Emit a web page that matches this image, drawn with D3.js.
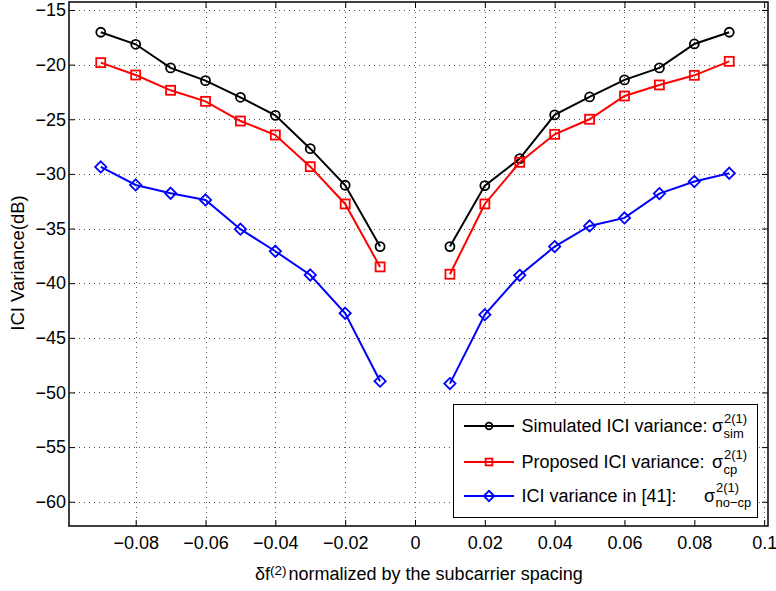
<!DOCTYPE html>
<html>
<head>
<meta charset="utf-8">
<script src="https://d3js.org/d3.v7.min.js"></script>
<style>
  body { margin: 0; background: #fff; }
  svg { display: block; font-family: "Liberation Sans", Arial, Helvetica, sans-serif; }
  .axis text { font-size: 18px; fill: #000; }
  .axis path, .axis line { stroke: #000; }
</style>
</head>
<body>
<div id="chart"></div>
<script>
// data (null at 0 breaks each curve in two)
var xValues = [-0.09, -0.08, -0.07, -0.06, -0.05, -0.04, -0.03, -0.02, -0.01, 0,
               0.01, 0.02, 0.03, 0.04, 0.05, 0.06, 0.07, 0.08, 0.09]
var simValues = [-17.04, -18.14, -20.3, -21.47, -22.99, -24.64, -27.69, -31.04, -36.65, null,
                 -36.65, -31.07, -28.6, -24.6, -22.96, -21.4, -20.3, -18.11, -17.04]
var cpValues = [-19.82, -20.95, -22.35, -23.36, -25.16, -26.44, -29.34, -32.75, -38.51, null,
                -39.18, -32.75, -28.94, -26.38, -25.0, -22.87, -21.86, -20.98, -19.7]
var nocpValues = [-29.36, -31.01, -31.77, -32.38, -35.06, -37.08, -39.25, -42.75, -48.97, null,
                  -49.19, -42.88, -39.28, -36.65, -34.76, -34.03, -31.8, -30.7, -29.94]

var xTicks = [-0.08, -0.06, -0.04, -0.02, 0, 0.02, 0.04, 0.06, 0.08, 0.1]
var xTickLabels = ["\u22120.08", "\u22120.06", "\u22120.04", "\u22120.02", "0", "0.02", "0.04", "0.06", "0.08", "0.1"]
var yTicks = [-60, -55, -50, -45, -40, -35, -30, -25, -20, -15]
var yTickLabels = ["\u221260", "\u221255", "\u221250", "\u221245", "\u221240", "\u221235", "\u221230", "\u221225", "\u221220", "\u221215"]

var seriesNames = ["Simulated ICI variance:", "Proposed ICI variance:", "ICI variance in [41]:"]
var seriesSubs = ["sim", "cp", "no\u2212cp"]
var seriesColors = ["#000000", "#ff0000", "#0000ff"]
var seriesMarkers = ["circle", "square", "diamond"]
var seriesValues = [simValues, cpValues, nocpValues]

var W = 776, H = 591
var box = { left: 69, right: 768, top: 2, bottom: 526 }

var svg = d3.select("#chart")
    .append("svg")
        .attr("width", W)
        .attr("height", H)

var x = d3.scaleLinear()
    .domain([-0.0991, 0.1011])
    .range([box.left, box.right])

var y = d3.scaleLinear()
    .domain([-62.22, -14.27])
    .range([box.bottom, box.top])

// dotted grid
var grid = svg.append("g")
grid.selectAll(".gx")
    .data(xTicks)
    .enter().append("line")
        .attr("x1", d => Math.round(x(d)) + 0.5)
        .attr("x2", d => Math.round(x(d)) + 0.5)
        .attr("y1", box.top)
        .attr("y2", box.bottom)
grid.selectAll(".gy")
    .data(yTicks)
    .enter().append("line")
        .attr("x1", box.left)
        .attr("x2", box.right)
        .attr("y1", d => Math.round(y(d)) + 0.5)
        .attr("y2", d => Math.round(y(d)) + 0.5)
grid.selectAll("line")
    .attr("stroke", "#555")
    .attr("stroke-width", 1)
    .attr("stroke-dasharray", "1,4")

// axes, ticks inward on all four sides
var xAxis = d3.axisBottom(x).tickValues(xTicks)
    .tickFormat((d, i) => xTickLabels[i]).tickSizeInner(-6).tickSizeOuter(0).tickPadding(10)
var yAxis = d3.axisLeft(y).tickValues(yTicks)
    .tickFormat((d, i) => yTickLabels[i]).tickSizeInner(-6).tickSizeOuter(0).tickPadding(3)

svg.append("g")
    .attr("class", "axis")
    .attr("transform", "translate(0," + box.bottom + ")")
    .call(xAxis)
    .call(g => g.select(".domain").remove())
svg.append("g")
    .attr("class", "axis")
    .attr("transform", "translate(" + box.left + ",0)")
    .call(yAxis)
    .call(g => g.select(".domain").remove())
svg.append("g")
    .attr("class", "axis")
    .attr("transform", "translate(0," + box.top + ")")
    .call(d3.axisTop(x).tickValues(xTicks).tickFormat("").tickSizeInner(-6).tickSizeOuter(0))
    .call(g => g.select(".domain").remove())
svg.append("g")
    .attr("class", "axis")
    .attr("transform", "translate(" + box.right + ",0)")
    .call(d3.axisRight(y).tickValues(yTicks).tickFormat("").tickSizeInner(-6).tickSizeOuter(0))
    .call(g => g.select(".domain").remove())

svg.append("rect")
    .attr("x", box.left)
    .attr("y", box.top)
    .attr("width", box.right - box.left)
    .attr("height", box.bottom - box.top)
    .attr("fill", "none")
    .attr("stroke", "#000")
    .attr("stroke-width", 1.5)

// axis labels
svg.append("text")
    .attr("transform", "rotate(-90)")
    .attr("x", -263)
    .attr("y", 24)
    .attr("text-anchor", "middle")
    .attr("font-size", "18.5px")
    .text("ICI Variance(dB)")

var xl = svg.append("text")
    .attr("x", 255)
    .attr("y", 580)
    .attr("font-size", "18px")
xl.append("tspan").text("\u03b4f")
xl.append("tspan").attr("dy", -5).attr("font-size", "13.5px").text("(2)")
xl.append("tspan").attr("dy", 5).attr("dx", 2).text("normalized by the subcarrier spacing")

function drawMarker(g, type, color, cx, cy, s) {
    if (type == "circle") {
        g.append("circle")
            .attr("cx", cx).attr("cy", cy).attr("r", s)
            .attr("fill", "none").attr("stroke", color).attr("stroke-width", 1.8)
    } else if (type == "square") {
        g.append("rect")
            .attr("x", cx - s).attr("y", cy - s).attr("width", 2 * s).attr("height", 2 * s)
            .attr("fill", "none").attr("stroke", color).attr("stroke-width", 1.8)
    } else {
        var d = s * 1.25
        g.append("path")
            .attr("d", "M" + cx + "," + (cy - d) + "L" + (cx + d) + "," + cy + "L" + cx + "," + (cy + d) + "L" + (cx - d) + "," + cy + "Z")
            .attr("fill", "none").attr("stroke", color).attr("stroke-width", 1.8)
    }
}

var line = d3.line()
    .defined(d => d[1] != null)
    .x(d => x(d[0]))
    .y(d => y(d[1]))

seriesValues.forEach(function(vals, k) {
    var pts = xValues.map((v, i) => [v, vals[i]])
    var g = svg.append("g")
    g.append("path")
        .attr("d", line(pts))
        .attr("fill", "none")
        .attr("stroke", seriesColors[k])
        .attr("stroke-width", 2)
    pts.filter(p => p[1] != null).forEach(function(p) {
        drawMarker(g, seriesMarkers[k], seriesColors[k], x(p[0]), y(p[1]), 4.5)
    })
})

// legend
var leg = svg.append("g")
leg.append("rect")
    .attr("x", 453.5)
    .attr("y", 404.5)
    .attr("width", 304)
    .attr("height", 113)
    .attr("fill", "#fff")
    .attr("stroke", "#000")
    .attr("stroke-width", 1)

var rowY = [426, 462, 496]
var sigmaX = [712, 712, 704]
var supDy = [-3.5, -3.5, -4.5]
var subDy = [12, 11.5, 10.5]
seriesNames.forEach(function(name, k) {
    var ry = rowY[k]
    leg.append("line")
        .attr("x1", 464).attr("x2", 514)
        .attr("y1", ry).attr("y2", ry)
        .attr("stroke", seriesColors[k])
        .attr("stroke-width", 2)
    drawMarker(leg, seriesMarkers[k], seriesColors[k], 489, ry, k == 2 ? 4.2 : 3.4)
    leg.append("text")
        .attr("x", 521.5)
        .attr("y", ry + 5.5)
        .attr("font-size", "18px")
        .text(name)
    leg.append("text")
        .attr("x", sigmaX[k])
        .attr("y", ry + 5.5)
        .attr("font-size", "18px")
        .text("\u03c3")
    leg.append("text")
        .attr("x", sigmaX[k] + 12)
        .attr("y", ry + supDy[k])
        .attr("font-size", "13px")
        .text("2(1)")
    leg.append("text")
        .attr("x", sigmaX[k] + 11.5)
        .attr("y", ry + subDy[k])
        .attr("font-size", "13px")
        .text(seriesSubs[k])
})
</script>
</body>
</html>
